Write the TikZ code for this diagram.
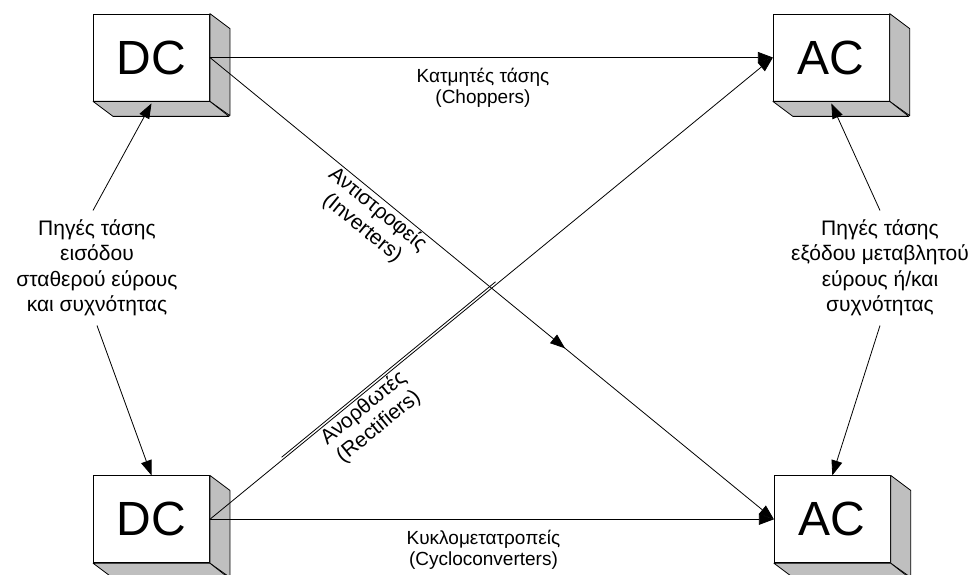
\documentclass[tikz,border=0pt]{standalone}
\usepackage{fontspec}
\setmainfont{Liberation Sans}
\usetikzlibrary{arrows.meta, positioning, calc, decorations.markings}

\begin{document}
\begin{tikzpicture}[
    x=1pt, y=-1pt,
    block/.style={
        rectangle, minimum width=116pt, minimum height=87pt,
        inner sep=0pt, draw=black, fill=white, line width=0.8pt,
        font=\fontsize{48}{48}\selectfont
    },
    blockside/.style={fill=gray!50, draw=black, line width=0.8pt, line join=round},
    note/.style={
        align=center, inner xsep=0pt, inner ysep=9pt,
        font=\fontsize{21}{25.5}\selectfont
    },
    flowlabel/.style={align=center, inner sep=2pt, font=\fontsize{19}{21}\selectfont},
    slopelabel/.style={align=center, inner sep=1pt, sloped, below, font=\fontsize{21}{24}\selectfont},
    wire/.style={line width=0.8pt, color=black},
    arrow/.style={-{Triangle[length=15pt,width=11pt]}, wire},
    midarrow/.style={
        postaction={decorate},
        decoration={markings, mark=at position #1 with {\arrow{Triangle[length=15pt,width=11pt]}}}
    }
]
\useasboundingbox (0,0) rectangle (974,575);

% converter blocks
\node (dcA) [block] at (151.5,57.5) {DC};
\node (acA) [block, right=563pt of dcA] {AC};
\node (dcB) [block, below=374pt of dcA] {DC};
\node (acB) [block, right=564pt of dcB] {AC};
\foreach \n in {dcA,acA,dcB,acB} {
    \filldraw[blockside] (\n.north east) -- ++(20,15) -- ++(0,87) -- (\n.south east) -- cycle;
    \filldraw[blockside] (\n.south west) -- ++(20,15) -- ++(116,0) -- (\n.south east) -- cycle;
}

% source notes
\node (srcIn) [note] at (97,268) {Πηγές τάσης\\εισόδου\\σταθερού εύρους\\και συχνότητας};
\node (srcOut) [note] at (880,268) {Πηγές τάσης\\εξόδου μεταβλητού\\εύρους ή/και\\συχνότητας};
\draw [arrow] ([xshift=-4pt]srcIn.north)--([yshift=-2pt]dcA.south);
\draw [arrow] (srcIn.south)--(dcB.north);
\draw [arrow] (srcOut.north)--([yshift=-2pt]acA.south);
\draw [arrow] (srcOut.south)--(acB.north);

% conversions
\draw [arrow] (dcA.east)--node[flowlabel, below=8pt, pos=0.485] {Κατμητές τάσης\\(Choppers)} (acA.west);
\draw [arrow] (dcB.east)--node[flowlabel, below=8pt, pos=0.485] {Κυκλομετατροπείς\\(Cycloconverters)} (acB.west);
\draw [arrow, midarrow=0.63] (dcA.east)--node[slopelabel, pos=0.31] {Αντιστροφείς\\(Inverters)} (acB.west);
\draw [arrow] (dcB.east)--node[slopelabel, pos=0.26] {Ανορθωτές\\(Rectifiers)} (acA.west);
\draw [wire] ($(dcB.east)!0.13!(acA.west)+(-1.5,-2)$)--($(dcB.east)!0.51!(acA.west)+(-1.5,-2)$);
\end{tikzpicture}
\end{document}
